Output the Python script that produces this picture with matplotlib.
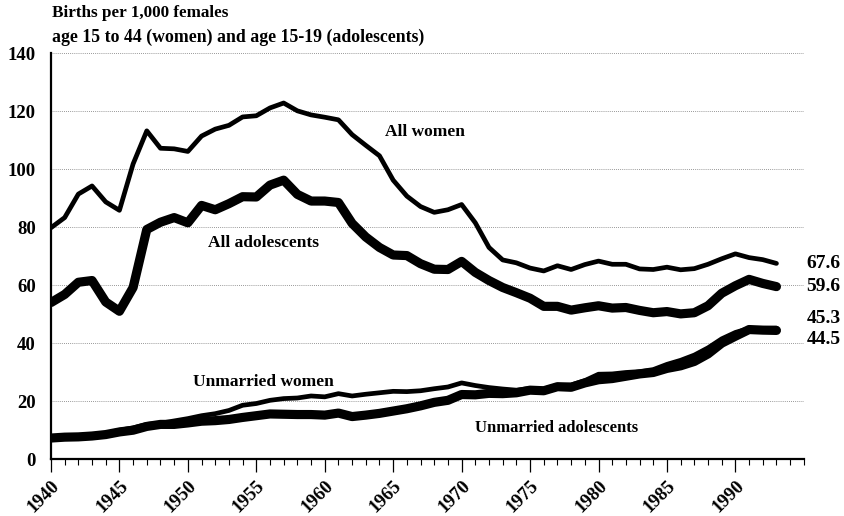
"""
Births per 1,000 females, 1940-1993: all women, all adolescents,
unmarried women, unmarried adolescents.
"""

import matplotlib
matplotlib.use("Agg")
import matplotlib.pyplot as plt
from matplotlib.ticker import MultipleLocator

years = list(range(1940, 1994))

all_women = [
    79.9, 83.4, 91.5, 94.3, 88.8, 85.9, 101.9, 113.3, 107.3, 107.1,
    106.2, 111.5, 113.9, 115.2, 118.1, 118.5, 121.2, 122.9, 120.2, 118.8,
    118.0, 117.1, 112.0, 108.3, 104.7, 96.3, 90.8, 87.2, 85.2, 86.1,
    87.9, 81.6, 73.1, 68.8, 67.8, 66.0, 65.0, 66.8, 65.5, 67.2,
    68.4, 67.3, 67.3, 65.7, 65.5, 66.3, 65.4, 65.8, 67.3, 69.2,
    70.9, 69.6, 68.9, 67.6,
]
all_adolescents = [
    54.1, 56.9, 61.1, 61.7, 54.3, 51.1, 59.3, 79.3, 81.8, 83.4,
    81.6, 87.6, 86.1, 88.2, 90.6, 90.5, 94.6, 96.3, 91.4, 89.1,
    89.1, 88.6, 81.4, 76.7, 73.1, 70.5, 70.3, 67.5, 65.6, 65.5,
    68.3, 64.5, 61.7, 59.3, 57.5, 55.6, 52.8, 52.8, 51.5, 52.3,
    53.0, 52.2, 52.4, 51.4, 50.6, 51.0, 50.2, 50.6, 53.0, 57.3,
    59.9, 62.1, 60.7, 59.6,
]
unmarried_women = [
    7.1, 7.8, 8.0, 8.3, 9.0, 10.1, 10.9, 12.1, 12.5, 13.3,
    14.1, 15.1, 15.8, 16.9, 18.7, 19.3, 20.4, 21.0, 21.2, 21.9,
    21.6, 22.7, 21.9, 22.5, 23.0, 23.5, 23.4, 23.7, 24.4, 25.0,
    26.4, 25.5, 24.8, 24.3, 23.9, 24.5, 24.3, 25.6, 25.7, 27.2,
    29.4, 29.5, 30.0, 30.3, 31.0, 32.8, 34.2, 36.0, 38.5, 41.6,
    43.8, 45.2, 45.2, 45.3,
]
unmarried_adolescents = [
    7.4, 7.7, 7.8, 8.1, 8.6, 9.5, 10.1, 11.4, 12.1, 12.1,
    12.6, 13.2, 13.4, 13.8, 14.5, 15.1, 15.7, 15.6, 15.5, 15.5,
    15.3, 16.0, 14.8, 15.3, 15.9, 16.7, 17.5, 18.5, 19.7, 20.4,
    22.4, 22.3, 22.8, 22.7, 23.0, 23.9, 23.7, 25.1, 24.9, 26.4,
    27.5, 27.9, 28.7, 29.5, 30.0, 31.4, 32.3, 33.8, 36.4, 40.1,
    42.5, 44.8, 44.6, 44.5,
]

end_labels = ["67.6", "59.6", "45.3", "44.5"]
end_label_y = [67.6, 59.6, 48.6, 41.2]

plt.rcParams["font.family"] = ["Liberation Serif", "DejaVu Serif"]

fig = plt.figure(figsize=(8.44, 5.16), dpi=100)
ax = fig.add_axes([0.0604, 0.1095, 0.892, 0.787])

thin, thick = 3.4, 6.6
ax.plot(years, all_women, color="black", lw=thin, solid_capstyle="round", zorder=3)
ax.plot(years, all_adolescents, color="black", lw=thick, solid_capstyle="round", zorder=3)
ax.plot(years, unmarried_women, color="black", lw=thin, solid_capstyle="round", zorder=3)
ax.plot(years, unmarried_adolescents, color="black", lw=thick, solid_capstyle="round", zorder=3)

ax.set_xlim(1940, 1995)
ax.set_ylim(0, 140)

ax.yaxis.set_major_locator(MultipleLocator(20))
ax.xaxis.set_major_locator(MultipleLocator(5))
ax.xaxis.set_minor_locator(MultipleLocator(1))
ax.grid(axis="y", which="major", color="#777777", lw=0.6, ls=(0, (1, 1.5)))

for s in ["top", "right"]:
    ax.spines[s].set_visible(False)
ax.spines["left"].set_linewidth(1.6)
ax.spines["bottom"].set_linewidth(1.6)

ax.tick_params(axis="y", length=0, pad=11, labelsize=13.5)
ax.tick_params(axis="x", which="major", length=9, width=0.9, direction="out", pad=4)
ax.tick_params(axis="x", which="minor", length=4, width=0.8, direction="out")

xt = list(range(1940, 1995, 5))
ax.set_xticks(xt)
ax.set_xticklabels([str(v) for v in xt], rotation=45, ha="right",
                   rotation_mode="anchor", fontsize=13.5, fontweight="bold")
for lab in ax.get_yticklabels():
    lab.set_fontweight("bold")

# titre en deux lignes au-dessus de l'axe
fig.text(0.0615, 0.975, "Births per 1,000 females", fontsize=12.3,
         fontweight="bold", va="center", ha="left")
fig.text(0.0615, 0.928, "age 15 to 44 (women) and age 15-19 (adolescents)",
         fontsize=12.8, fontweight="bold", va="center", ha="left")

# étiquettes des séries
ax.text(1964.4, 113, "All women", fontsize=12.5, fontweight="bold", va="center")
ax.text(1951.5, 74.5, "All adolescents", fontsize=12.5, fontweight="bold", va="center")
ax.text(1950.4, 26.8, "Unmarried women", fontsize=12.5, fontweight="bold", va="center")
ax.text(1971.0, 10.8, "Unmarried adolescents", fontsize=12, fontweight="bold", va="center")

for lab, yv in zip(end_labels, end_label_y):
    ax.text(1995.2, yv, lab, fontsize=14, fontweight="bold", va="center",
            ha="left", clip_on=False)

fig.savefig("out.png", dpi=100)
